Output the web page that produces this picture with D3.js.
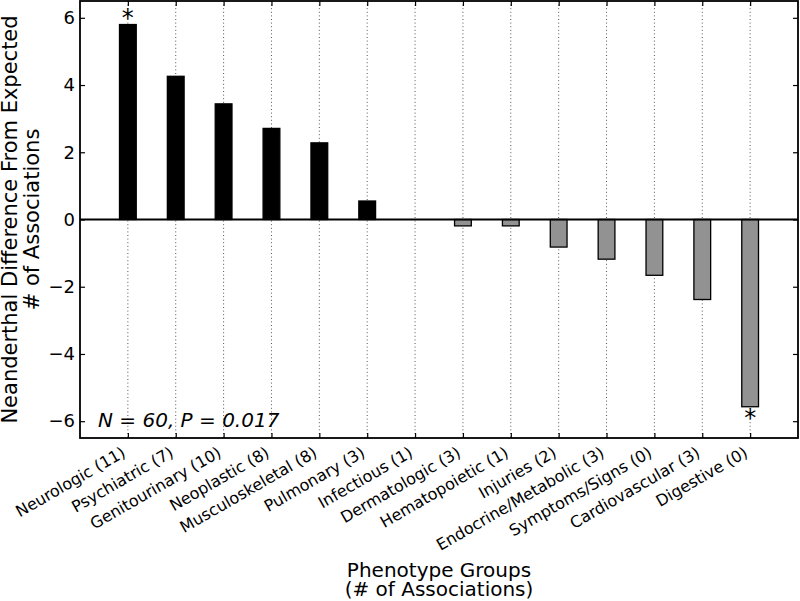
<!DOCTYPE html>
<html>
<head>
<meta charset="utf-8">
<script src="https://cdn.jsdelivr.net/npm/d3@7"></script>
<style>
  html, body { margin: 0; padding: 0; background: #fff; }
  svg { display: block; }
  text { font-family: "DejaVu Sans", sans-serif; fill: #000; }
</style>
</head>
<body>
<svg id="chart" width="800" height="601"></svg>
<script>
const categories = ["Neurologic (11)", "Psychiatric (7)", "Genitourinary (10)", "Neoplastic (8)",
  "Musculoskeletal (8)", "Pulmonary (3)", "Infectious (1)", "Dermatologic (3)", "Hematopoietic (1)",
  "Injuries (2)", "Endocrine/Metabolic (3)", "Symptoms/Signs (0)", "Cardiovascular (3)", "Digestive (0)"];
const values = [5.80, 4.26, 3.44, 2.71, 2.28, 0.55, 0.0, -0.19, -0.19, -0.82, -1.18, -1.66, -2.38, -5.57];
const significant = [true, false, false, false, false, false, false, false, false, false, false, false, false, true];
const yTicks = [-6, -4, -2, 0, 2, 4, 6];
const yDomain = [-6.5, 6.5];
const xDomain = [-1, 14];
const annotation = "N = 60, P = 0.017";
const yLabelLines = ["Neanderthal Difference From Expected", "# of Associations"];
const xLabelLines = ["Phenotype Groups", "(# of Associations)"];

const svg = d3.select("#chart");
const m = { left: 80, right: 798, top: 1, bottom: 438 };
const x = d3.scaleLinear().domain(xDomain).range([m.left, m.right]);
const y = d3.scaleLinear().domain(yDomain).range([m.bottom, m.top]);
const barW = x(0.35) - x(0);

// grid (vertical dotted)
svg.append("g").selectAll("line").data(categories).join("line")
  .attr("x1", (d, i) => x(i)).attr("x2", (d, i) => x(i))
  .attr("y1", m.top).attr("y2", m.bottom)
  .attr("stroke", "#555").attr("stroke-width", 1).attr("stroke-dasharray", "1,2.6");

// bars
svg.append("g").selectAll("rect").data(values).join("rect")
  .attr("x", (d, i) => x(i) - barW / 2)
  .attr("width", barW)
  .attr("y", d => y(Math.max(0, d)))
  .attr("height", d => Math.abs(y(d) - y(0)))
  .attr("fill", d => d >= 0 ? "#000" : "#929292")
  .attr("stroke", "#000").attr("stroke-width", 1.3);

// zero line
svg.append("line").attr("x1", m.left).attr("x2", m.right)
  .attr("y1", y(0)).attr("y2", y(0)).attr("stroke", "#000").attr("stroke-width", 1.8);

// asterisks
svg.append("g").selectAll("text").data(values.map((v, i) => ({ v, i })).filter(d => significant[d.i])).join("text")
  .attr("x", d => x(d.i))
  .attr("y", d => d.v >= 0 ? y(d.v) + 1.5 : y(d.v) + 19.5)
  .attr("text-anchor", "middle").attr("font-size", 24).text("*");

// axes with inward ticks
const tickLen = 5;
const yAxisL = d3.axisLeft(y).tickValues(yTicks).tickSize(-tickLen).tickPadding(5)
  .tickFormat(d => d < 0 ? "\u2212" + Math.abs(d) : d);
const gyl = svg.append("g").attr("transform", `translate(${m.left},0)`).call(yAxisL);
gyl.selectAll("text").attr("font-size", 18).attr("font-family", "DejaVu Sans").attr("fill", "#000");
const gyr = svg.append("g").attr("transform", `translate(${m.right},0)`)
  .call(d3.axisRight(y).tickValues(yTicks).tickSize(-tickLen).tickFormat(""));
const gxb = svg.append("g").attr("transform", `translate(0,${m.bottom})`)
  .call(d3.axisBottom(x).tickValues(d3.range(categories.length)).tickSize(-tickLen).tickFormat(""));
const gxt = svg.append("g").attr("transform", `translate(0,${m.top})`)
  .call(d3.axisTop(x).tickValues(d3.range(categories.length)).tickSize(-tickLen).tickFormat(""));
[gyl, gyr, gxb, gxt].forEach(g => {
  g.select(".domain").remove();
  g.selectAll(".tick line").attr("stroke", "#000").attr("stroke-width", 1.2);
});

// frame
svg.append("rect").attr("x", m.left).attr("y", m.top)
  .attr("width", m.right - m.left).attr("height", m.bottom - m.top)
  .attr("fill", "none").attr("stroke", "#000").attr("stroke-width", 1.8);

// rotated x tick labels
const fs = 16, h = fs * 1.17;
svg.append("g").selectAll("text").data(categories).join("text")
  .attr("transform", (d, i) => `translate(${x(i) - h * 0.5 + 2},${m.bottom + 7}) rotate(-30)`)
  .attr("text-anchor", "end").attr("dy", "0.78em")
  .attr("font-size", fs).text(d => d);

// annotation
svg.append("text").attr("x", 98).attr("y", 427).attr("font-size", 20)
  .attr("font-style", "italic").text(annotation);

// y label
const yl = svg.append("text").attr("transform", `translate(17,${(m.top + m.bottom) / 2}) rotate(-90)`)
  .attr("text-anchor", "middle").attr("font-size", 21);
yLabelLines.forEach((t, i) => yl.append("tspan").attr("x", 0).attr("dy", i === 0 ? 0 : 21.5).text(t));

// x label
const xl = svg.append("text").attr("text-anchor", "middle").attr("font-size", 20);
xLabelLines.forEach((t, i) => xl.append("tspan").attr("x", (m.left + m.right) / 2).attr("y", 577 + i * 19).text(t));
</script>
</body>
</html>
